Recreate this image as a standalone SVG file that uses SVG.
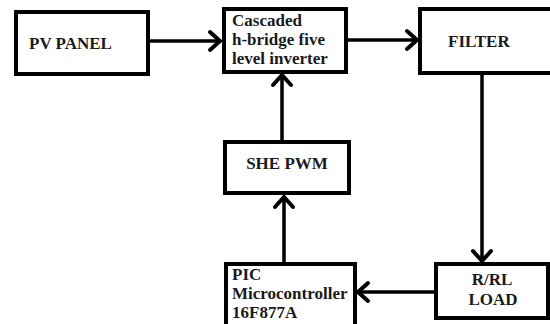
<svg xmlns="http://www.w3.org/2000/svg" width="550" height="324" viewBox="0 0 550 324">
<defs>
<style>
.box{fill:#fff;stroke:#000;stroke-width:4}
.t{font-family:"Liberation Serif","Times New Roman",serif;font-weight:bold;font-size:17px;fill:#1a1a1a}
.c{text-anchor:middle}
.ln{stroke:#000;stroke-width:3.5;fill:none}
</style>
<marker id="ah" markerUnits="userSpaceOnUse" markerWidth="24" markerHeight="24" refX="0" refY="0" viewBox="-14 -12 16 24" orient="auto">
<path d="M-10,-9 L0,0 L-10,9" fill="none" stroke="#000" stroke-width="4" stroke-linecap="round" stroke-linejoin="miter"/>
</marker>
</defs>
<rect width="550" height="324" fill="#fff"/>
<g id="connectors">
<line class="ln" x1="149" y1="41" x2="220" y2="41" marker-end="url(#ah)"/>
<line class="ln" x1="346" y1="40" x2="417" y2="40" marker-end="url(#ah)"/>
<line class="ln" x1="482" y1="74" x2="482" y2="261" marker-end="url(#ah)"/>
<line class="ln" x1="436" y1="292" x2="358" y2="292" marker-end="url(#ah)"/>
<line class="ln" x1="284" y1="264" x2="284" y2="197" marker-end="url(#ah)"/>
<line class="ln" x1="282" y1="142" x2="282" y2="75" marker-end="url(#ah)"/>
</g>
<g id="pv">
<rect class="box" x="16" y="12" width="132" height="62"/>
<text class="t" x="29" y="49">PV PANEL</text>
</g>
<g id="inverter">
<rect class="box" x="224" y="9" width="122" height="63"/>
<text class="t" x="232" y="26">Cascaded</text>
<text class="t" x="232" y="45">h-bridge five</text>
<text class="t" x="232" y="64">level inverter</text>
</g>
<g id="filter">
<rect class="box" x="420" y="9" width="140" height="64"/>
<text class="t" x="448" y="47">FILTER</text>
</g>
<g id="she">
<rect class="box" x="225" y="142" width="124" height="51"/>
<text class="t c" x="287" y="169">SHE PWM</text>
</g>
<g id="pic">
<rect class="box" x="226" y="264" width="129" height="70"/>
<text class="t" x="232" y="280">PIC</text>
<text class="t" x="232" y="299">Microcontroller</text>
<text class="t" x="232" y="318">16F877A</text>
</g>
<g id="load">
<rect class="box" x="436" y="264" width="112" height="54"/>
<text class="t c" x="492" y="285">R/RL</text>
<text class="t c" x="493" y="305">LOAD</text>
</g>
</svg>
